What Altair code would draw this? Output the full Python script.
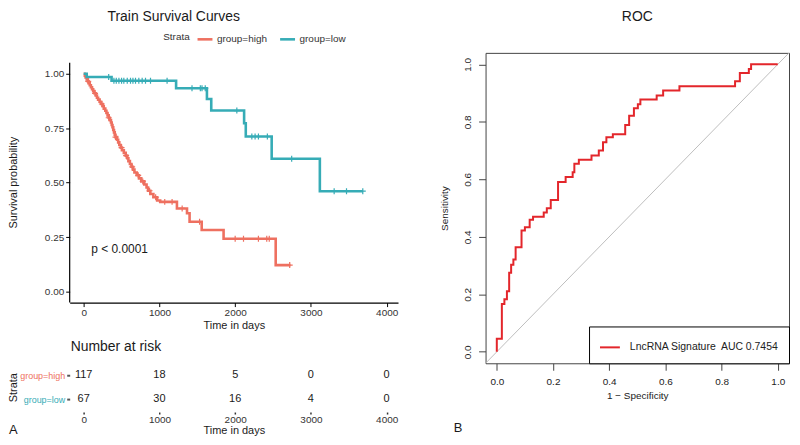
import altair as alt
import pandas as pd

# ---------------- data ----------------
HIGH, LOW = "group=high", "group=low"

# Kaplan-Meier steps: time (days) where survival changes, survival after the step
high_time = [0, 15, 25, 40, 55, 65, 80, 95, 110, 125, 140, 160, 175, 190, 210, 230, 250, 265,
             285, 300, 315, 330, 345, 360, 370, 380, 390, 400, 410, 420, 440, 455, 470, 490,
             505, 530, 555, 575, 590, 610, 630, 650, 670, 700, 730, 760, 800, 830, 850, 880,
             920, 970, 1010, 1231, 1364, 1398, 1558, 1847, 2535]
high_surv = [1.0, 0.991, 0.983, 0.974, 0.965, 0.956, 0.947, 0.938, 0.929, 0.920, 0.910, 0.900,
             0.890, 0.881, 0.871, 0.861, 0.851, 0.840, 0.830, 0.820, 0.809, 0.798, 0.787, 0.776,
             0.765, 0.754, 0.742, 0.731, 0.720, 0.709, 0.697, 0.685, 0.673, 0.661, 0.649, 0.637,
             0.624, 0.612, 0.599, 0.586, 0.573, 0.560, 0.547, 0.534, 0.520, 0.506, 0.492, 0.478,
             0.463, 0.448, 0.433, 0.418, 0.412, 0.382, 0.360, 0.321, 0.283, 0.243, 0.122]
high_end = 2730

low_time = [0, 40, 368, 1220, 1627, 1684, 2118, 2140, 2482, 3118]
low_surv = [1.0, 0.985, 0.968, 0.933, 0.884, 0.831, 0.773, 0.712, 0.610, 0.461]
low_end = 3685

# censoring marks (days)
high_censor = [60, 150, 240, 330, 420, 500, 560, 640, 720, 780, 870, 950, 1070, 1167, 1300,
               1530, 2000, 2110, 2307, 2417, 2450, 2720]
low_censor = [330, 399, 430, 465, 500, 530, 575, 618, 650, 684, 728, 772, 816, 882, 1101,
              1430, 1540, 1562, 1605, 2022, 2220, 2263, 2307, 2425, 2746, 3307, 3470, 3685]

p_label = "p < 0.0001"

# number at risk table
risk_times = [0, 1000, 2000, 3000, 4000]
risk_high = [117, 18, 5, 0, 0]
risk_low = [67, 30, 16, 4, 0]

# ROC curve corners (1 - specificity, sensitivity)
roc_fpr = [0.0, 0.0, 0.018, 0.027, 0.036, 0.044, 0.051, 0.059, 0.067, 0.088, 0.100, 0.117,
           0.129, 0.167, 0.178, 0.192, 0.218, 0.245, 0.270, 0.276, 0.292, 0.337, 0.363, 0.378,
           0.390, 0.413, 0.457, 0.471, 0.488, 0.502, 0.511, 0.569, 0.592, 0.650, 0.848, 0.865,
           0.897, 0.905, 1.0]
roc_tpr = [0.0, 0.045, 0.166, 0.183, 0.211, 0.275, 0.303, 0.321, 0.364, 0.422, 0.433, 0.459,
           0.470, 0.485, 0.499, 0.528, 0.591, 0.608, 0.625, 0.654, 0.668, 0.683, 0.700, 0.729,
           0.746, 0.757, 0.789, 0.821, 0.847, 0.861, 0.878, 0.892, 0.909, 0.924, 0.941, 0.970,
           0.984, 1.0, 1.0]
roc_label = "LncRNA Signature\u00a0 AUC 0.7454"
diag_vals = [-0.04, 1.04]

# ---------------- styling ----------------
C_HIGH, C_LOW = "#EE7060", "#36ACB6"
C_ROC = "#E3262B"
FONT = "Liberation Sans"
TXT = "#1a1a1a"


def surv_at(times, survs, t):
    v = survs[0]
    for tt, s in zip(times, survs):
        if tt <= t:
            v = s
    return v


km_rows = []
for g, ts, ss, end in [(HIGH, high_time, high_surv, high_end), (LOW, low_time, low_surv, low_end)]:
    for t, s in zip(ts, ss):
        km_rows.append({"time": t, "surv": s, "group": g})
    km_rows.append({"time": end, "surv": ss[-1], "group": g})
km_df = pd.DataFrame(km_rows)

cens_rows = []
for g, cs, ts, ss in [(HIGH, high_censor, high_time, high_surv), (LOW, low_censor, low_time, low_surv)]:
    for c in cs:
        cens_rows.append({"time": c, "surv": surv_at(ts, ss, c), "group": g})
cens_df = pd.DataFrame(cens_rows)

risk_rows = []
for g, ns in [(HIGH, risk_high), (LOW, risk_low)]:
    for t, n in zip(risk_times, ns):
        risk_rows.append({"time": t, "group": g, "n": n})
risk_df = pd.DataFrame(risk_rows)

roc_df = pd.DataFrame({"fpr": roc_fpr, "tpr": roc_tpr, "i": list(range(len(roc_fpr))),
                       "name": [roc_label] * len(roc_fpr)})
diag_df = pd.DataFrame({"fpr": diag_vals, "tpr": diag_vals})

# ---------------- KM panel ----------------
KM_W, KM_H = 330, 251
x_scale = alt.Scale(domain=[-185, 4150], nice=False, zero=False)
x_km = alt.X("time:Q", scale=x_scale,
             axis=alt.Axis(values=risk_times, format="d", title="Time in days",
                           domainColor="black", domainWidth=1.2, tickColor="black", tickSize=4,
                           labelPadding=1, labelFontSize=10, labelColor="#333",
                           titleFontSize=11, titleFontWeight="normal", titleColor=TXT,
                           titlePadding=2))
y_km = alt.Y("surv:Q", scale=alt.Scale(domain=[-0.05, 1.0956], nice=False, zero=False),
             axis=alt.Axis(values=[0, 0.25, 0.5, 0.75, 1.0], format=".2f", domain=False,
                           tickColor="black", tickSize=4, labelPadding=2, labelFontSize=10,
                           labelColor="#333", title="Survival probability", titleFontSize=11,
                           titleFontWeight="normal", titleColor=TXT, titleX=-56, titleY=130,
                           titleAngle=270, titleAlign="center", titleBaseline="middle"))
grp_scale = alt.Scale(domain=[HIGH, LOW], range=[C_HIGH, C_LOW])

lines = alt.Chart(km_df).mark_line(interpolate="step-after", strokeWidth=2.6).encode(
    x=x_km, y=y_km,
    color=alt.Color("group:N", scale=grp_scale,
                    legend=alt.Legend(orient="none", legendX=94, legendY=-23, direction="horizontal",
                                      title="Strata", titleOrient="left", titleFontSize=10,
                                      titleFontWeight="normal", titleColor="#333", titlePadding=6,
                                      labelFontSize=10, labelColor="#333", symbolType="stroke",
                                      symbolSize=225, symbolStrokeWidth=2.6, labelOffset=3,
                                      columnPadding=7)))
cens = alt.Chart(cens_df).mark_point(shape="M0,-1L0,1M-1,0L1,0", size=36, filled=False,
                                     strokeWidth=1.2, opacity=1).encode(
    x=x_km, y=y_km, stroke=alt.Stroke("group:N", scale=grp_scale, legend=None))
yline = alt.Chart(pd.DataFrame({"surv": [-0.05], "surv2": [1.05]})).mark_rule(
    color="black", strokeWidth=1.2).encode(x=alt.value(0), y=y_km, y2=alt.Y2("surv2:Q"))
pval = alt.Chart(pd.DataFrame({"time": [100], "surv": [0.196], "label": [p_label]})).mark_text(
    align="left", baseline="middle", fontSize=12, color=TXT).encode(x=x_km, y=y_km, text="label:N")
km_title = alt.Chart(pd.DataFrame({"label": ["Train Survival Curves"]})).mark_text(
    align="left", baseline="middle", fontSize=14, color=TXT).encode(
    x=alt.value(38), y=alt.value(-36), text="label:N")

km = alt.layer(lines, cens, yline, pval, km_title).properties(width=KM_W, height=KM_H)

# ---------------- risk table ----------------
x_risk = alt.X("time:Q", scale=x_scale,
               axis=alt.Axis(values=risk_times, format="d", domain=False, tickSize=2, tickWidth=1.5,
                             tickColor="#333", offset=1, labelPadding=1, labelFontSize=10,
                             labelColor="#333", title="Time in days", titleFontSize=11,
                             titleFontWeight="normal", titleColor=TXT, titlePadding=0))
y_risk = alt.Y("group:N", scale=alt.Scale(type="point", domain=[HIGH, LOW], padding=0.5),
               axis=alt.Axis(domain=False, tickSize=3, tickWidth=2, tickColor="#555",
                             labelPadding=2, labelFontSize=9,
                             labelColor={"condition": {"test": "datum.label == 'group=high'",
                                                       "value": C_HIGH}, "value": C_LOW},
                             title="Strata", titleFontSize=11, titleFontWeight="normal",
                             titleColor=TXT, titleX=-56, titleY=24, titleAngle=270,
                             titleAlign="center", titleBaseline="middle"))
nums = alt.Chart(risk_df).mark_text(fontSize=11, color=TXT).encode(x=x_risk, y=y_risk, text="n:Q")
nar = alt.Chart(pd.DataFrame({"label": ["Number at risk"]})).mark_text(
    align="left", baseline="middle", fontSize=14, color=TXT).encode(
    x=alt.value(1), y=alt.value(-16), text="label:N")
a_txt = alt.Chart(pd.DataFrame({"label": ["A"]})).mark_text(
    align="left", baseline="middle", fontSize=13, color=TXT).encode(
    x=alt.value(-61), y=alt.value(67), text="label:N")
risk = alt.layer(nums, nar, a_txt).properties(width=KM_W, height=48)

# ---------------- ROC panel ----------------
ROC_W, ROC_H = 305, 312
roc_vals = [0, 0.2, 0.4, 0.6, 0.8, 1.0]
x_roc = alt.X("fpr:Q", scale=alt.Scale(domain=[-0.04, 1.04], nice=False, zero=False),
              axis=alt.Axis(values=roc_vals, format=".1f", domain=False, tickSize=7,
                            tickColor="#444", labelPadding=6, labelFontSize=10, labelColor="#222",
                            title="1 \u2212 Specificity", titleFontSize=10,
                            titleFontWeight="normal", titleColor="#222", titlePadding=4))
y_roc = alt.Y("tpr:Q", scale=alt.Scale(domain=[-0.04, 1.04], nice=False, zero=False),
              axis=alt.Axis(values=roc_vals, format=".1f", domain=False, tickSize=7,
                            tickColor="#444", labelAngle=270, labelAlign="center",
                            labelBaseline="bottom", labelPadding=6, labelFontSize=10,
                            labelColor="#222", title="Sensitivity", titleFontSize=10,
                            titleFontWeight="normal", titleColor="#222", titleX=-41, titleY=156,
                            titleAngle=270, titleAlign="center", titleBaseline="middle"))
diag = alt.Chart(diag_df).mark_line(color="#BDBDBD", strokeWidth=1).encode(x=x_roc, y=y_roc)
curve = alt.Chart(roc_df).mark_line(interpolate="step-after", strokeWidth=2).encode(
    x=x_roc, y=y_roc, order=alt.Order("i:Q"),
    color=alt.Color("name:N", scale=alt.Scale(domain=[roc_label], range=[C_ROC]),
                    legend=alt.Legend(orient="bottom-right", offset=0, title=None,
                                      strokeColor="black", fillColor="white", padding=10,
                                      cornerRadius=0, symbolType="stroke", symbolSize=400,
                                      symbolStrokeWidth=2, labelFontSize=10.5, labelColor="#222",
                                      labelOffset=9)))
roc_title = alt.Chart(pd.DataFrame({"label": ["ROC"]})).mark_text(
    align="center", baseline="middle", fontSize=14, color=TXT).encode(
    x=alt.value(ROC_W / 2), y=alt.value(-36), text="label:N")
b_txt = alt.Chart(pd.DataFrame({"label": ["B"]})).mark_text(
    align="left", baseline="middle", fontSize=13, color=TXT).encode(
    x=alt.value(-32), y=alt.value(377), text="label:N")
roc = alt.layer(diag, curve, roc_title, b_txt).properties(
    width=ROC_W, height=ROC_H, view=alt.ViewBackground(stroke="#444", strokeWidth=1))

left = alt.vconcat(km, risk, spacing=10)
chart = alt.hconcat(left, roc, spacing=41).resolve_scale(color="independent").properties(
    padding={"left": 0, "top": 0, "right": 0, "bottom": -1}
).configure(font=FONT).configure_view(stroke=None).configure_axis(grid=False)

chart.save("out.html", embed_options={"renderer": "svg", "actions": False})
